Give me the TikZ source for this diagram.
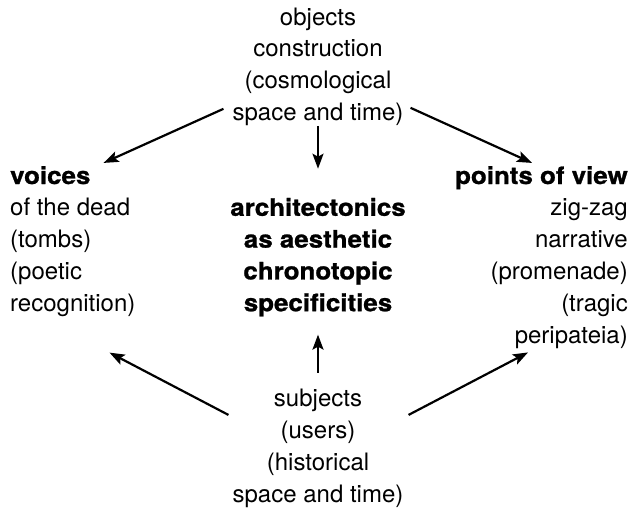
\documentclass[tikz,border=0pt]{standalone}
\usepackage{fontspec}
\setmainfont[BoldFeatures={FakeStretch=1.08,FakeBold=1}]{TeX Gyre Heros}
\usetikzlibrary{arrows.meta}

\begin{document}
\begin{tikzpicture}[x=1pt,y=-1pt,
    lbl/.style={inner sep=0pt, font=\fontsize{24}{31.8}\selectfont},
    arr/.style={line width=2.2pt, -{Stealth[length=15pt,width=11pt,inset=3pt]}}]
    \useasboundingbox (0,0) rectangle (634,509);

    % the five blocks of text (base = last line)
    \node[lbl, align=center, anchor=base] (obj) at (318,120.4)
        {objects\\construction\\(cosmological\\space and time)};
    \node[lbl, align=left, anchor=base west] (voices) at (10,311.2)
        {\textbf{voices}\\of the dead\\(tombs)\\(poetic\\recognition)};
    \node[lbl, align=center, anchor=base] (arch) at (318,311.2)
        {\textbf{architectonics}\\\textbf{as aesthetic}\\\textbf{chronotopic}\\\textbf{specificities}};
    \node[lbl, align=right, anchor=base east] (pov) at (628,343)
        {\textbf{points of view}\\zig-zag\\narrative\\(promenade)\\(tragic\\peripateia)};
    \node[lbl, align=center, anchor=base] (subj) at (318,502)
        {subjects\\(users)\\(historical\\space and time)};

    % arrows out of the objects
    \draw[arr] ([xshift=-9pt,yshift=17pt]obj.south west) -- ([xshift=-32pt,yshift=3pt]voices.north east);
    \draw[arr, shorten >=29pt] (obj.south) -- (obj.south |- arch.north);
    \draw[arr] ([xshift=7pt,yshift=18pt]obj.south east) -- ([xshift=-96pt,yshift=3pt]pov.north east);

    % arrows out of the subjects
    \draw[arr] ([xshift=-4pt,yshift=-26pt]subj.north west) -- ([xshift=-26pt,yshift=-36pt]voices.south east);
    \draw[arr, shorten <=16pt, shorten >=18pt] (subj.north) -- (subj.north |- arch.south);
    \draw[arr] ([xshift=5pt,yshift=-26pt]subj.north east) -- ([xshift=-100pt,yshift=-4pt]pov.south east);
\end{tikzpicture}
\end{document}
